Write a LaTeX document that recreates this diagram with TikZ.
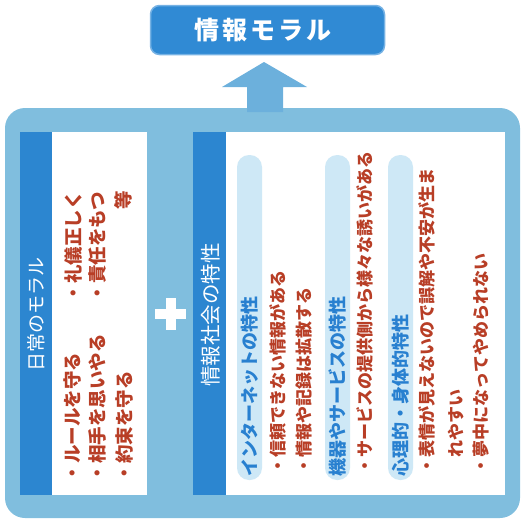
\documentclass[tikz,border=0pt]{standalone}
\usepackage{fontspec}
\newfontfamily\jp{Noto Sans CJK JP}
\definecolor{outerblue}{RGB}{128,190,222}
\definecolor{barblue}{RGB}{44,134,208}
\definecolor{titleblue}{RGB}{48,138,212}
\definecolor{titleedge}{RGB}{118,178,228}
\definecolor{arrowblue}{RGB}{108,176,220}
\definecolor{pillblue}{RGB}{206,232,246}
\definecolor{headblue}{RGB}{40,128,208}
\definecolor{bulletred}{RGB}{184,62,38}
\tikzset{
  vtext/.style={rotate=90, anchor=west, inner sep=0pt, outer sep=0pt},
  rbullet/.style={vtext, text=bulletred, font=\jp\bfseries\fontsize{17}{17}\selectfont},
  lbullet/.style={vtext, text=bulletred, font=\jp\bfseries\fontsize{18.5}{18.5}\selectfont},
  headtext/.style={vtext, text=headblue, font=\jp\bfseries\fontsize{18}{18}\selectfont},
  bartext/.style={rotate=90, anchor=center, inner sep=0pt, text=white, font=\jp\fontsize{19}{19}\selectfont},
  pillbox/.style={fill=pillblue, rounded corners=12pt},
}
\newcommand\tsp{\hspace{3pt}}
\begin{document}
\begin{tikzpicture}[x=1pt,y=-1pt]
\useasboundingbox (0,0) rectangle (525,522);
% outer box
\fill[outerblue, rounded corners=20pt] (5,108) rectangle (520,518);
% arrow
\coordinate (tip) at (264,62);
\fill[arrowblue] (tip) -- (307,87) -- (283,87) -- (283,112) -- (247,112) -- (247,87) -- (222,87) -- cycle;
% title
\node[draw=titleedge, line width=1.5pt, fill=titleblue, rounded corners=9pt,
      minimum width=234pt, minimum height=49pt, inner sep=0pt] (title) at (267.5,30) {};
\node[inner sep=0pt, text=white,
      font=\jp\bfseries\fontsize{25}{25}\selectfont] (titletext) at (263,30) {情\tsp 報\tsp モ\tsp ラ\tsp ル};
% left panel
\fill[barblue] (20,132) rectangle (52,495);
\fill[white] (52,132) rectangle (147,495);
\node[bartext] (lhead) at (36,314) {日常のモラル};
\node[lbullet] (l1) at (72,482) {・ルールを守る};
\node[lbullet] (l2) at (97,482) {・相手を思いやる};
\node[lbullet] (l3) at (124,482) {・約束を守る};
\node[lbullet] (l4) at (73,302) {・礼儀正しく};
\node[lbullet] (l5) at (98,302) {・責任をもつ};
\node[lbullet, anchor=center] (l6) at (123,200) {等};
% plus
\fill[white] (155,309) rectangle (186,319);
\fill[white] (165.5,298) rectangle (175.5,330);
% right panel
\fill[barblue] (193,132) rectangle (226,495);
\fill[white] (226,132) rectangle (505,495);
\node[bartext, font=\jp\fontsize{20.5}{20.5}\selectfont] (rhead) at (211,315) {情報社会の特性};
\fill[pillbox] (237,155) rectangle (262,480);
\fill[pillbox] (325,155) rectangle (350,480);
\fill[pillbox] (388,155) rectangle (413,480);
\node[headtext] (h1) at (249.5,476) {インターネットの特性};
\node[headtext] (h2) at (337.5,476) {機器やサービスの特性};
\node[headtext] (h3) at (400.5,476) {心理的・身体的特性};
\node[rbullet] (r1) at (278,474) {・信頼できない情報がある};
\node[rbullet] (r2) at (304,474) {・情報や記録は拡散する};
\node[rbullet] (r3) at (365,474) {・サービスの提供側から様々な誘いがある};
\node[rbullet] (r4) at (427,474) {・表情が見えないので誤解や不安が生ま};
\node[rbullet] (r5) at (456,457) {れやすい};
\node[rbullet] (r6) at (481,474) {・夢中になってやめられない};
\end{tikzpicture}
\end{document}
